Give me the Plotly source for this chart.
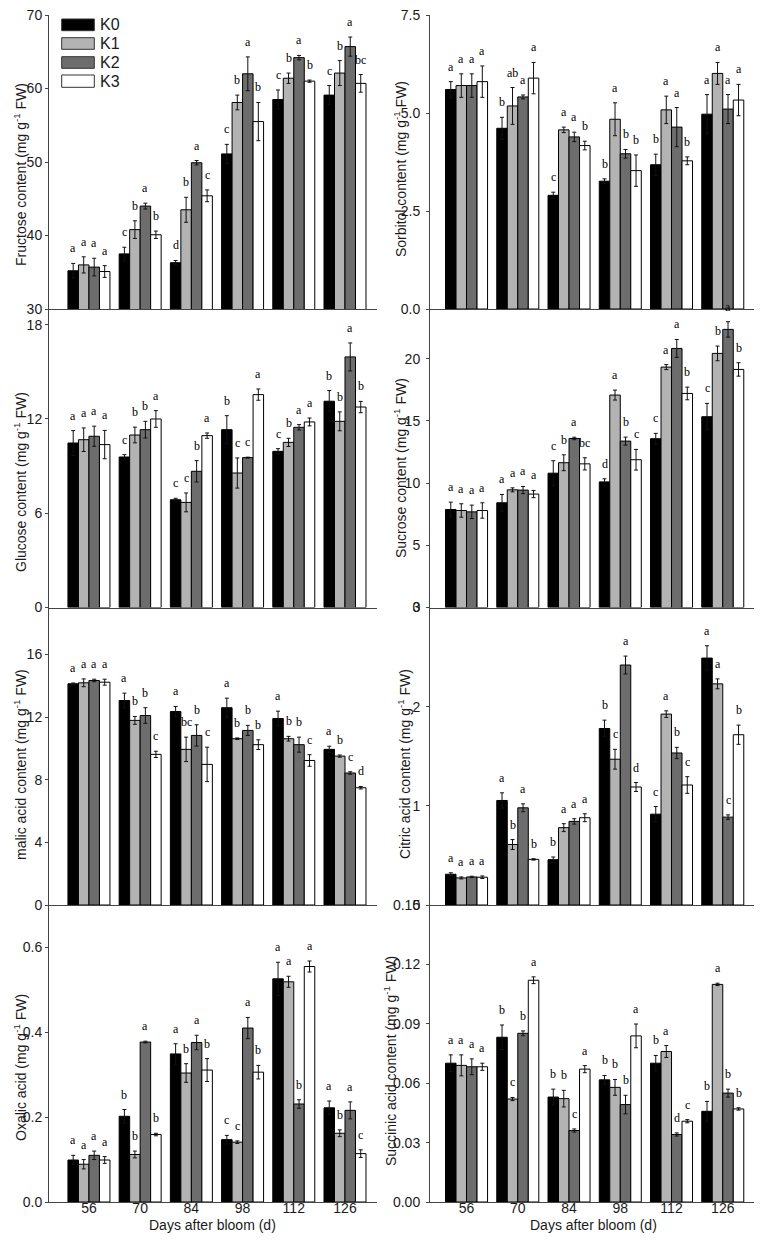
import plotly.graph_objects as go

# ---------------- data ----------------
days = ["56", "70", "84", "98", "112", "126"]
treatments = ["K0", "K1", "K2", "K3"]

fructose_mean = [[35.2, 37.5, 36.3, 51.1, 58.5, 59.1],
                 [36.0, 40.8, 43.5, 58.1, 61.4, 62.1],
                 [35.7, 44.0, 49.9, 62.0, 64.2, 65.7],
                 [35.1, 40.1, 45.4, 55.5, 61.0, 60.7]]
fructose_err = [[1.0, 0.9, 0.3, 1.3, 1.3, 1.3],
                [1.1, 1.2, 1.7, 1.0, 0.7, 1.7],
                [1.2, 0.4, 0.3, 2.3, 0.3, 1.3],
                [0.8, 0.5, 0.8, 2.6, 0.15, 1.2]]
fructose_letters = [["a", "c", "d", "c", "c", "c"],
                    ["a", "b", "b", "b", "b", "b"],
                    ["a", "a", "a", "a", "a", "a"],
                    ["a", "b", "c", "b", "b", "bc"]]

sorbitol_mean = [[5.60, 4.61, 2.90, 3.26, 3.68, 4.97],
                 [5.70, 5.18, 4.57, 4.84, 5.08, 6.01],
                 [5.70, 5.41, 4.39, 3.96, 4.64, 5.10],
                 [5.80, 5.89, 4.17, 3.53, 3.78, 5.33]]
sorbitol_err = [[0.20, 0.28, 0.08, 0.06, 0.27, 0.50],
                [0.30, 0.47, 0.07, 0.42, 0.35, 0.28],
                [0.30, 0.05, 0.12, 0.11, 0.50, 0.37],
                [0.40, 0.40, 0.11, 0.40, 0.10, 0.40]]
sorbitol_letters = [["a", "b", "c", "b", "b", "a"],
                    ["a", "ab", "a", "a", "a", "a"],
                    ["a", "a", "a", "b", "a", "a"],
                    ["a", "a", "b", "b", "b", "a"]]

glucose_mean = [[10.47, 9.58, 6.86, 11.32, 9.94, 13.13],
                [10.68, 10.98, 6.69, 8.56, 10.51, 11.85],
                [10.90, 11.32, 8.67, 9.54, 11.47, 15.95],
                [10.37, 12.00, 10.94, 13.55, 11.81, 12.76]]
glucose_err = [[0.79, 0.15, 0.09, 0.89, 0.17, 0.68],
               [0.75, 0.50, 0.60, 0.96, 0.26, 0.60],
               [0.64, 0.53, 0.68, 0.03, 0.17, 0.89],
               [0.90, 0.53, 0.17, 0.36, 0.25, 0.36]]
glucose_letters = [["a", "c", "c", "b", "c", "b"],
                   ["a", "b", "c", "c", "b", "b"],
                   ["a", "b", "b", "c", "a", "a"],
                   ["a", "a", "a", "a", "a", "b"]]

sucrose_mean = [[7.88, 8.42, 10.80, 10.10, 13.57, 15.34],
                [7.80, 9.46, 11.64, 17.08, 19.33, 20.43],
                [7.69, 9.44, 13.59, 13.38, 20.83, 22.36],
                [7.80, 9.12, 11.55, 11.88, 17.21, 19.14]]
sucrose_err = [[0.59, 0.67, 1.00, 0.25, 0.43, 1.07],
               [0.54, 0.16, 0.64, 0.40, 0.20, 0.59],
               [0.54, 0.29, 0.10, 0.32, 0.72, 0.62],
               [0.62, 0.29, 0.49, 0.83, 0.51, 0.54]]
sucrose_letters = [["a", "a", "c", "d", "c", "c"],
                   ["a", "a", "b", "a", "a", "b"],
                   ["a", "a", "a", "b", "a", "a"],
                   ["a", "a", "bc", "c", "b", "b"]]

malic_mean = [[14.13, 13.06, 12.36, 12.60, 11.91, 9.94],
              [14.19, 11.79, 9.94, 10.62, 10.62, 9.51],
              [14.34, 12.10, 10.83, 11.15, 10.24, 8.43],
              [14.23, 9.62, 8.98, 10.24, 9.23, 7.49]]
malic_err = [[0.05, 0.47, 0.32, 0.61, 0.47, 0.20],
             [0.25, 0.25, 0.78, 0.05, 0.15, 0.07],
             [0.08, 0.50, 0.68, 0.32, 0.48, 0.08],
             [0.19, 0.20, 1.10, 0.31, 0.37, 0.08]]
malic_letters = [["a", "a", "a", "a", "a", "a"],
                 ["a", "b", "bc", "b", "b", "b"],
                 ["a", "b", "b", "b", "b", "c"],
                 ["a", "c", "c", "b", "c", "d"]]

citric_mean = [[0.310, 1.054, 0.457, 1.78, 0.916, 2.49],
               [0.273, 0.610, 0.780, 1.47, 1.925, 2.23],
               [0.283, 0.980, 0.843, 2.42, 1.533, 0.886],
               [0.280, 0.460, 0.880, 1.19, 1.210, 1.717]]
citric_err = [[0.015, 0.077, 0.027, 0.084, 0.077, 0.124],
              [0.010, 0.050, 0.040, 0.100, 0.033, 0.050],
              [0.007, 0.040, 0.027, 0.090, 0.057, 0.023],
              [0.013, 0.007, 0.040, 0.045, 0.084, 0.097]]
citric_letters = [["a", "a", "b", "b", "c", "a"],
                  ["a", "b", "a", "c", "a", "a"],
                  ["a", "a", "a", "a", "b", "c"],
                  ["a", "b", "a", "d", "c", "b"]]

oxalic_mean = [[0.099, 0.202, 0.349, 0.147, 0.526, 0.222],
               [0.089, 0.112, 0.304, 0.141, 0.519, 0.162],
               [0.110, 0.377, 0.376, 0.410, 0.231, 0.216],
               [0.099, 0.159, 0.311, 0.306, 0.555, 0.114]]
oxalic_err = [[0.011, 0.016, 0.024, 0.010, 0.039, 0.016],
              [0.011, 0.008, 0.022, 0.003, 0.013, 0.008],
              [0.010, 0.002, 0.017, 0.025, 0.010, 0.020],
              [0.008, 0.003, 0.027, 0.016, 0.013, 0.009]]
oxalic_letters = [["a", "b", "a", "c", "a", "a"],
                  ["a", "b", "b", "c", "a", "b"],
                  ["a", "a", "a", "a", "b", "a"],
                  ["a", "b", "b", "b", "a", "c"]]

succinic_mean = [[0.0701, 0.0832, 0.0530, 0.0617, 0.0701, 0.0458],
                 [0.0690, 0.0520, 0.0522, 0.0579, 0.0760, 0.1099],
                 [0.0683, 0.0852, 0.0361, 0.0492, 0.0341, 0.0550],
                 [0.0683, 0.1120, 0.0671, 0.0839, 0.0408, 0.0470]]
succinic_err = [[0.0042, 0.0062, 0.0040, 0.0022, 0.0039, 0.0050],
                [0.0053, 0.0008, 0.0042, 0.0040, 0.0030, 0.0006],
                [0.0040, 0.0012, 0.0008, 0.0047, 0.0008, 0.0020],
                [0.0018, 0.0017, 0.0018, 0.0060, 0.0008, 0.0006]]
succinic_letters = [["a", "b", "b", "b", "b", "b"],
                    ["a", "c", "b", "b", "a", "a"],
                    ["a", "b", "c", "b", "d", "b"],
                    ["a", "a", "a", "a", "c", "b"]]

# ---------------- style / layout ----------------
PAGE_OFF = 8                     # default page body margin in the browser
W, H = 762 - PAGE_OFF, 1243 - PAGE_OFF
colors = ["#000000", "#b3b3b3", "#6d6d6d", "#ffffff"]
AX = "#444444"
TXT = "#1a1a1a"
SANS = "Liberation Sans, Arial, sans-serif"
SERIF = "Liberation Serif, Times New Roman, serif"

# panel edges measured in page pixels
col_px = [(49, 377), (430, 757)]
row_px = [(15, 309), (309, 607.5), (607.5, 905), (905, 1202)]
xranges = [[-0.78, 5.625], [-0.713, 5.668]]


def px_x(v):
    return (v - PAGE_OFF) / W


def px_y(v):
    return 1 - (v - PAGE_OFF) / H


panels = [
    dict(name="Fructose content (mg g<sup>-1</sup> FW)", mean=fructose_mean, err=fructose_err,
         letters=fructose_letters, rng=[30, 70], tv=[30, 40, 50, 60, 70], tt=["30", "40", "50", "60", "70"],
         tx=20, ty=175),
    dict(name="Sorbitol content (mg g<sup>-1</sup> FW)", mean=sorbitol_mean, err=sorbitol_err,
         letters=sorbitol_letters, rng=[0, 7.5], tv=[0, 2.5, 5, 7.5], tt=["0.0", "2.5", "5.0", "7.5"],
         tx=400, ty=169),
    dict(name="Glucose content (mg g<sup>-1</sup> FW)", mean=glucose_mean, err=glucose_err,
         letters=glucose_letters, rng=[0, 19], tv=[0, 6, 12, 18], tt=["0", "6", "12", "18"],
         tx=20, ty=482),
    dict(name="Sucrose content (mg g<sup>-1</sup> FW)", mean=sucrose_mean, err=sucrose_err,
         letters=sucrose_letters, rng=[0, 24], tv=[0, 5, 10, 15, 20], tt=["0", "5", "10", "15", "20"],
         tx=400, ty=468),
    dict(name="malic acid content (mg g<sup>-1</sup> FW)", mean=malic_mean, err=malic_err,
         letters=malic_letters, rng=[0, 19], tv=[0, 4, 8, 12, 16], tt=["0", "4", "8", "12", "16"],
         tx=20, ty=765),
    dict(name="Citric acid content (mg g<sup>-1</sup> FW)", mean=citric_mean, err=citric_err,
         letters=citric_letters, rng=[0, 3], tv=[0, 1, 2, 3], tt=["0", "1", "2", "3"],
         tx=404, ty=764),
    dict(name="Oxalic acid (mg g<sup>-1</sup> FW)", mean=oxalic_mean, err=oxalic_err,
         letters=oxalic_letters, rng=[0, 0.7], tv=[0, 0.2, 0.4, 0.6], tt=["0.0", "0.2", "0.4", "0.6"],
         tx=20, ty=1068),
    dict(name="Succinic acid content (mg g<sup>-1</sup> FW)", mean=succinic_mean, err=succinic_err,
         letters=succinic_letters, rng=[0, 0.15], tv=[0, 0.03, 0.06, 0.09, 0.12, 0.15],
         tt=["0.00", "0.03", "0.06", "0.09", "0.12", "0.15"], tx=390, ty=1061),
]

fig = go.Figure()
annotations = []
shapes = []
layout = {}
bar_w = 0.82 / 4
xs = list(range(len(days)))

for p, cfg in enumerate(panels):
    i = p + 1
    suffix = "" if i == 1 else str(i)
    r, c = divmod(p, 2)
    xa, ya = "x" + suffix, "y" + suffix
    for k in range(4):
        fig.add_trace(go.Bar(
            x=xs, y=cfg["mean"][k], name=treatments[k], showlegend=False,
            xaxis=xa, yaxis=ya,
            marker=dict(color=colors[k], line=dict(color="#000000", width=1)),
            error_y=dict(type="data", array=cfg["err"][k], color="#111111", thickness=1, width=2),
        ))
        for g in xs:
            annotations.append(dict(
                x=g + (k - 1.5) * bar_w, y=cfg["mean"][k][g] + cfg["err"][k][g],
                xref=xa, yref=ya, text=cfg["letters"][k][g], showarrow=False,
                yanchor="bottom", xanchor="center", yshift=6,
                font=dict(family=SERIF, size=12, color="#000000")))
    x0, x1 = col_px[c]
    y0, y1 = row_px[r]
    layout["xaxis" + suffix] = dict(
        domain=[px_x(x0), px_x(x1)], range=xranges[c], anchor=ya, automargin=False,
        showline=True, linecolor=AX, linewidth=1, showgrid=False, zeroline=False,
        tickvals=xs, ticktext=days, ticks="", showticklabels=(r == 3), ticklabelstandoff=-7,
        ticklabeloverflow="allow",
        tickfont=dict(family=SANS, size=14, color=TXT), fixedrange=True)
    layout["yaxis" + suffix] = dict(
        domain=[px_y(y1), px_y(y0)], range=cfg["rng"], anchor=xa, automargin=False,
        showline=True, linecolor=AX, linewidth=1, showgrid=False, zeroline=False,
        tickvals=cfg["tv"], ticktext=cfg["tt"], ticks="outside", ticklen=3, tickcolor=AX,
        ticklabelstandoff=(0 if c == 0 else 3), ticklabeloverflow="allow",
        tickfont=dict(family=SANS, size=14, color=TXT), fixedrange=True)
    annotations.append(dict(
        x=px_x(cfg["tx"]), y=px_y(cfg["ty"]), xref="paper", yref="paper",
        text=cfg["name"], textangle=-90, showarrow=False, xanchor="center", yanchor="middle",
        font=dict(family=SANS, size=14, color=TXT)))

# x-axis titles
for c in range(2):
    x0, x1 = col_px[c]
    annotations.append(dict(
        x=px_x((x0 + x1) / 2), y=px_y(1225), xref="paper", yref="paper",
        text="Days after bloom (d)", showarrow=False, xanchor="center", yanchor="middle",
        font=dict(family=SANS, size=14, color=TXT)))

# legend (top-left of first panel)
leg_rows = [(19, 30.7), (37.7, 49.3), (56.7, 68.3), (75, 87.3)]
for k, (ty0, ty1) in enumerate(leg_rows):
    shapes.append(dict(type="rect", xref="paper", yref="paper",
                       x0=px_x(61.7), x1=px_x(94.3), y0=px_y(ty1), y1=px_y(ty0),
                       fillcolor=colors[k], line=dict(color="#333333", width=1)))
    annotations.append(dict(
        x=px_x(98), y=px_y((ty0 + ty1) / 2), xref="paper", yref="paper",
        text=treatments[k], showarrow=False, xanchor="left", yanchor="middle",
        font=dict(family=SANS, size=16, color=TXT)))

fig.update_layout(
    template="none",
    width=W, height=H, margin=dict(l=0, r=0, t=0, b=0, pad=0, autoexpand=False),
    paper_bgcolor="white", plot_bgcolor="white",
    barmode="group", bargap=0.18, bargroupgap=0,
    annotations=annotations, shapes=shapes, showlegend=False,
    font=dict(family=SANS, size=14, color=TXT),
    **layout)

fig.write_html("out.html")
